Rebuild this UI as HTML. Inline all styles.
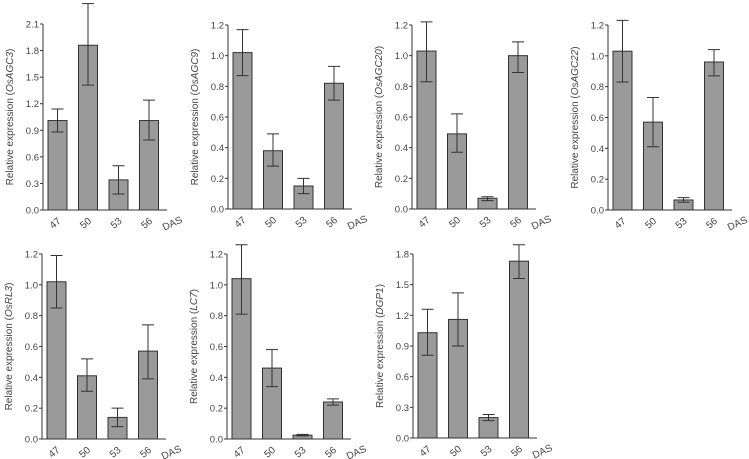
<!DOCTYPE html>
<html><head><meta charset="utf-8"><style>
body{margin:0;background:#fff;}
svg{display:block;font-family:"Liberation Sans",sans-serif;}
</style></head><body>
<svg id="fig" width="749" height="459" viewBox="0 0 749 459"></svg>
<script>
const categories = ["47","50","53","56"];
const genes = ["OsAGC3","OsAGC9","OsAGC20","OsAGC22","OsRL3","LC7","DGP1"];
const meanAGC3 = [1.01,1.86,0.34,1.01];
const lowAGC3 = [0.88,1.41,0.18,0.79];
const highAGC3 = [1.14,2.33,0.50,1.24];
const meanAGC9 = [1.02,0.38,0.15,0.82];
const lowAGC9 = [0.87,0.28,0.10,0.71];
const highAGC9 = [1.17,0.49,0.20,0.93];
const meanAGC20 = [1.03,0.49,0.07,1.00];
const lowAGC20 = [0.83,0.37,0.055,0.89];
const highAGC20 = [1.22,0.62,0.08,1.09];
const meanAGC22 = [1.03,0.57,0.065,0.96];
const lowAGC22 = [0.83,0.41,0.05,0.87];
const highAGC22 = [1.23,0.73,0.08,1.04];
const meanRL3 = [1.02,0.41,0.14,0.57];
const lowRL3 = [0.85,0.31,0.08,0.39];
const highRL3 = [1.19,0.52,0.20,0.74];
const meanLC7 = [1.04,0.46,0.025,0.24];
const lowLC7 = [0.81,0.34,0.02,0.22];
const highLC7 = [1.26,0.58,0.03,0.26];
const meanDGP1 = [1.03,1.16,0.20,1.73];
const lowDGP1 = [0.81,0.90,0.17,1.56];
const highDGP1 = [1.26,1.42,0.23,1.89];
const ticksA = ["0.0","0.3","0.6","0.9","1.2","1.5","1.8","2.1"];
const ticksB = ["0.0","0.2","0.4","0.6","0.8","1.0","1.2"];
const ticksC = ["0.0","0.3","0.6","0.9","1.2","1.5","1.8"];

const means=[meanAGC3,meanAGC9,meanAGC20,meanAGC22,meanRL3,meanLC7,meanDGP1];
const lows=[lowAGC3,lowAGC9,lowAGC20,lowAGC22,lowRL3,lowLC7,lowDGP1];
const highs=[highAGC3,highAGC9,highAGC20,highAGC22,highRL3,highLC7,highDGP1];
const tickSets=[ticksA,ticksB,ticksB,ticksB,ticksB,ticksB,ticksC];
const layout=[[43,24,210],[228,25,209],[412,25,209],[608,25,210],[42,254,439],[227,254,439],[413,254,438]];

const NS="http://www.w3.org/2000/svg";
const svg=document.getElementById('fig');
function mk(tag,attrs,parent){const e=document.createElementNS(NS,tag);for(const k in attrs)e.setAttribute(k,attrs[k]);(parent||svg).appendChild(e);return e;}

genes.forEach((g,p)=>{
  const [ax,top,bot]=layout[p];
  const ticks=tickSets[p];
  const vmax=parseFloat(ticks[ticks.length-1]);
  const y=v=>bot-(v/vmax)*(bot-top);
  const x=i=>ax+5+i*30.5;
  const grp=mk('g',{});
  
  
  const yaxis=mk('line',{x1:ax,y1:top,x2:ax,y2:bot,stroke:'#333','stroke-width':1},grp);
  
  
  const xaxis=mk('line',{x1:ax,y1:bot,x2:ax+124,y2:bot,stroke:'#333','stroke-width':1},grp);
  
  
  ticks.forEach(t=>{
    const yy=y(parseFloat(t));
    mk('line',{x1:ax-3,y1:yy,x2:ax,y2:yy,stroke:'#333'},grp);
    const tt=mk('text',{x:ax-4,y:yy+3.5,'text-anchor':'end','font-size':9.5,fill:'#444'},grp);
    tt.textContent=t;
    
    
  });
  const yl=mk('text',{transform:`translate(${ax-30},${(top+bot)/2}) rotate(-90)`,'text-anchor':'middle','font-size':10,fill:'#444'},grp);
  
  
  yl.appendChild(document.createTextNode('Relative expression ('));
  const ts=mk('tspan',{'font-style':'italic'},yl);ts.textContent=g;
  yl.appendChild(document.createTextNode(')'));
  categories.forEach((c,i)=>{
    const bx=x(i),bw=19;
    const r=mk('rect',{x:bx,y:y(means[p][i]),width:bw,height:bot-y(means[p][i]),fill:'#9a9a9a',stroke:'#333','stroke-width':1},grp);
    
    
    const cx=bx+bw/2,y1=y(lows[p][i]),y2=y(highs[p][i]);
    const eb=mk('path',{d:`M${cx},${y1}V${y2}M${cx-6},${y1}H${cx+6}M${cx-6},${y2}H${cx+6}`,stroke:'#333','stroke-width':1,fill:'none'},grp);
    
    
    const lt=mk('text',{transform:`translate(${cx+4},${bot+12}) rotate(-40)`,'text-anchor':'end','font-size':10,fill:'#444'},grp);
    lt.textContent=c;
    
    
  });
  const das=mk('text',{transform:`translate(${ax+140},${bot+12}) rotate(-25)`,'text-anchor':'end','font-size':10,fill:'#444'},grp);
  das.textContent='DAS';
  
  
});
</script>
</body></html>
